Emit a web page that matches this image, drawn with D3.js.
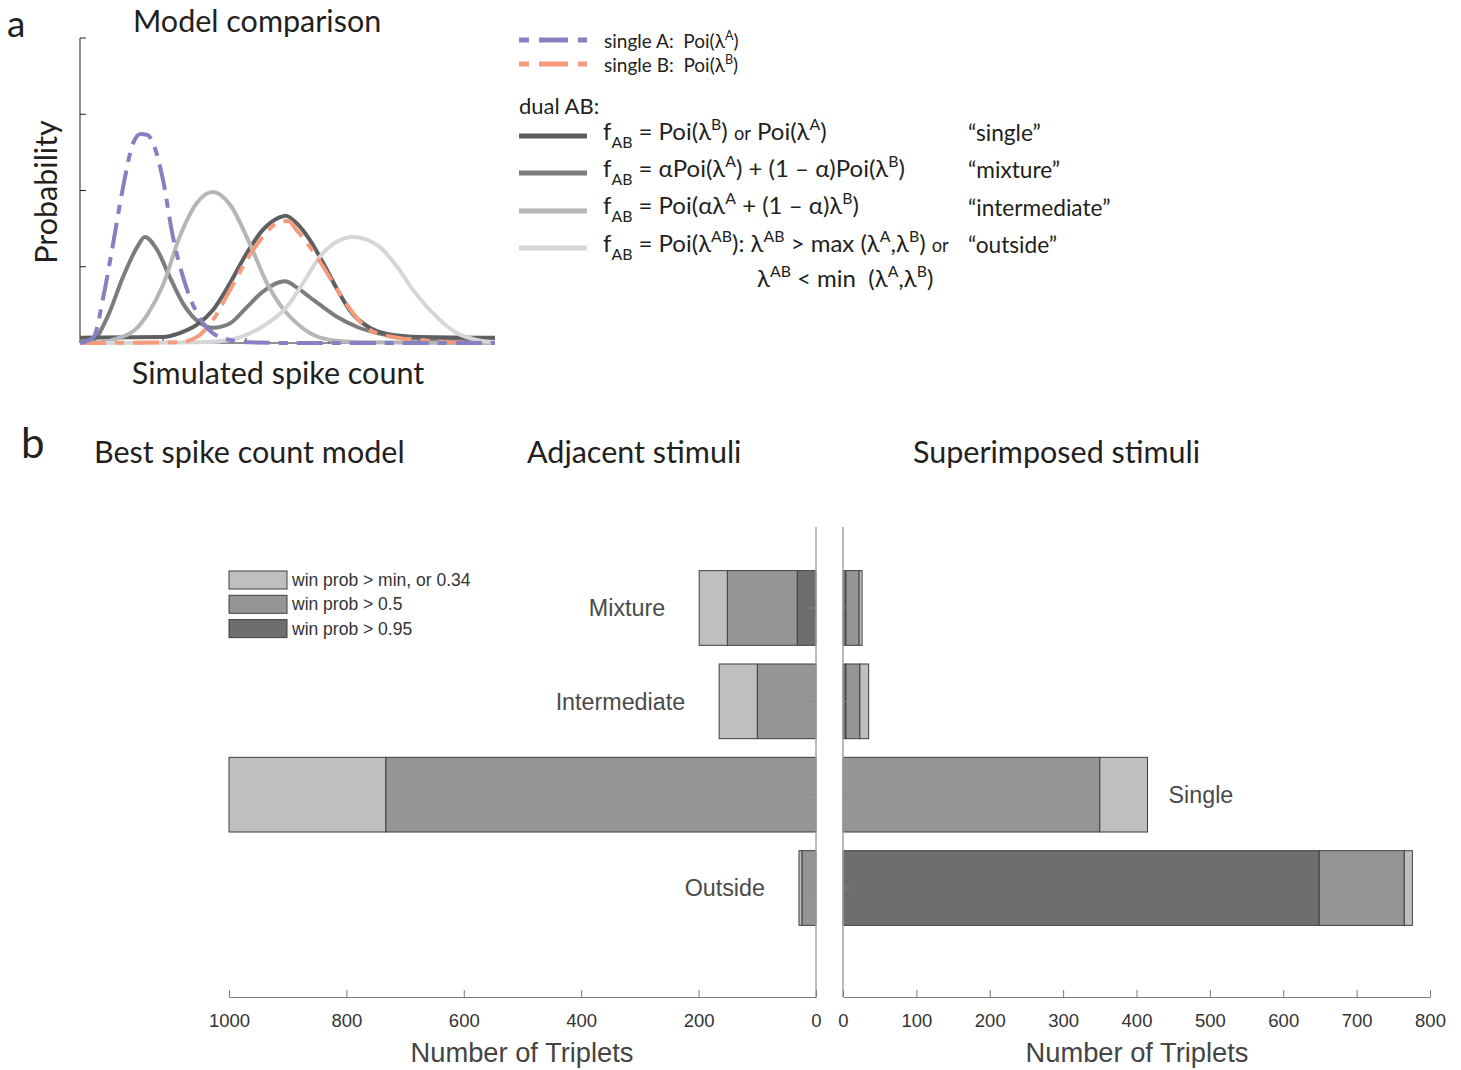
<!DOCTYPE html>
<html>
<head>
<meta charset="utf-8">
<script src="https://cdn.jsdelivr.net/npm/d3@7"></script>
<style>
  body { margin: 0; background: #fff; }
  svg text { white-space: pre; }
</style>
</head>
<body>
<div id="chart"></div>
<script>
"use strict";

/* ---------- Data: panel a (curves, [count, prob]) ---------- */
const curveSingleA = [[0,0],[1.6,0.07],[2.8,0.6],[4.0,1.31],[5.2,2.05],[6.4,2.62],[7.3,2.74],[8.1,2.73],
  [8.8,2.62],[10.0,2.14],[11.2,1.39],[12.4,0.87],[14.1,0.39],[16.0,0.13],[18.1,0.04],[20.1,0.01],[25.3,0],[50,0]];
const curveSingleB = [[0,0],[12.0,0.01],[14.1,0.08],[16.0,0.3],[18.1,0.7],[20.1,1.09],[22.0,1.39],[24.1,1.59],
  [25.1,1.6],[26.1,1.48],[27.7,1.26],[29.3,1.0],[31.0,0.7],[32.9,0.39],[34.9,0.17],[38.2,0.07],[41.0,0.04],[44.6,0.01],[50,0]];
const curveDualSingle = [[0,0.07],[10.0,0.08],[12.0,0.13],[14.1,0.24],[16.0,0.43],[18.1,0.79],[20.1,1.18],[22.0,1.48],
  [24.1,1.65],[24.8,1.67],[26.1,1.57],[27.7,1.35],[29.3,1.05],[31.0,0.7],[32.5,0.43],[34.9,0.2],[37.0,0.12],[41.0,0.08],[50,0.07]];
const curveMixture = [[0,0.01],[1.6,0.04],[3.3,0.34],[5.2,0.87],[6.9,1.26],[7.8,1.39],[9.3,1.22],[10.8,0.87],
  [12.4,0.52],[14.5,0.26],[16.0,0.2],[18.1,0.26],[20.1,0.47],[22.0,0.67],[24.1,0.8],[24.7,0.81],[26.1,0.73],
  [27.7,0.6],[29.3,0.47],[31.0,0.34],[33.4,0.21],[35.8,0.13],[38.9,0.07],[44.6,0.04],[50,0.04]];
const curveIntermediate = [[0,0],[2.4,0.01],[4.8,0.07],[6.6,0.17],[8.1,0.37],[10.0,0.76],[12.0,1.39],[14.1,1.84],
  [16.0,1.98],[18.1,1.81],[20.5,1.29],[22.5,0.79],[24.1,0.5],[25.9,0.28],[27.7,0.13],[30.1,0.04],[33.7,0.01],[50,0]];
const curveOutside = [[0,0],[14.5,0.01],[18.1,0.04],[20.5,0.13],[22.9,0.28],[24.9,0.47],[26.9,0.79],[28.9,1.13],
  [31.0,1.33],[32.9,1.39],[34.7,1.35],[36.1,1.26],[38.2,1.0],[40.1,0.7],[43.0,0.34],[45.4,0.13],[47.8,0.04],[50,0.01]];

const probTicks = [1, 2, 3, 4];
const countTicks = [10, 20, 30, 40];

/* ---------- Data: panel b ---------- */
const categories = ["Mixture", "Intermediate", "Single", "Outside"];
const levelLabels = ["win prob > min, or 0.34", "win prob > 0.5", "win prob > 0.95"];

// Adjacent stimuli
const adjacentHigh = [32, 0, 0, 0];     // win prob > 0.95
const adjacentMid = [119, 100, 733, 24]; // win prob > 0.5
const adjacentLow = [48, 65, 267, 5];    // win prob > min
// Superimposed stimuli
const superHigh = [4, 4, 0, 649];
const superMid = [18, 19, 350, 116];
const superLow = [4, 12, 65, 11];

const adjacentTicks = [1000, 800, 600, 400, 200, 0];
const superTicks = [0, 100, 200, 300, 400, 500, 600, 700, 800];

/* ---------- Drawing config ---------- */
let svgWidth = 1461;
let svgHeight = 1070;
const myriad = "Lato, 'Open Sans', sans-serif";
const arial = "'Liberation Sans', Arial, sans-serif";
const ink = "#231f20";

let svg = d3.select("#chart")
  .append("svg")
  .attr("width", svgWidth)
  .attr("height", svgHeight);

/* Text with sub/superscripts */
function richText(parent, x, y, parts, size) {
  let t = parent.append("text")
    .attr("x", x)
    .attr("y", y)
    .attr("font-family", myriad)
    .attr("font-size", size)
    .attr("fill", ink);
  let shift = 0;
  parts.forEach(p => {
    let str = typeof p === "string" ? p : p[0];
    let kind = typeof p === "string" ? "n" : p[1];
    let target = 0;
    if (kind === "sub") target = size * 0.32;
    if (kind === "sup") target = -size * 0.42;
    let ts = t.append("tspan").attr("dy", target - shift).text(str);
    if (kind === "sub" || kind === "sup") ts.attr("font-size", size * 0.66);
    if (kind === "small") ts.attr("font-size", size * 0.76);
    shift = target;
  });
  return t;
}

/* ================= Panel a ================= */
svg.append("text")
  .attr("x", 7).attr("y", 36.5)
  .attr("font-family", myriad).attr("font-size", 37).attr("fill", ink)
  .text("a");

svg.append("text")
  .attr("x", 133).attr("y", 32)
  .attr("font-family", myriad).attr("font-size", 30.5).attr("fill", ink)
  .text("Model comparison");

let xA = d3.scaleLinear().domain([0, 50]).range([80, 495]);
let yA = d3.scaleLinear().domain([0, 4]).range([343, 38]);

/* axes */
svg.append("line")
  .attr("x1", 80).attr("y1", yA(4)).attr("x2", 80).attr("y2", yA(0))
  .attr("stroke", ink).attr("stroke-width", 1);
svg.append("line")
  .attr("x1", 80).attr("y1", yA(0)).attr("x2", 495).attr("y2", yA(0))
  .attr("stroke", ink).attr("stroke-width", 1);
probTicks.forEach(v => {
  svg.append("line")
    .attr("x1", 80).attr("x2", 86).attr("y1", yA(v)).attr("y2", yA(v))
    .attr("stroke", ink).attr("stroke-width", 1);
});
countTicks.forEach(v => {
  svg.append("line")
    .attr("x1", xA(v)).attr("x2", xA(v)).attr("y1", yA(0)).attr("y2", yA(0) - 5)
    .attr("stroke", ink).attr("stroke-width", 1);
});

let lineA = d3.line()
  .x(d => xA(d[0]))
  .y(d => yA(d[1]))
  .curve(d3.curveMonotoneX);

let curves = [
  { data: curveMixture, color: "#7c7d7f", dash: null },
  { data: curveDualSingle, color: "#5e5f61", dash: null },
  { data: curveIntermediate, color: "#b5b6b8", dash: null },
  { data: curveOutside, color: "#d5d6d8", dash: null },
  { data: curveSingleB, color: "#f59b7c", dash: "26 9 9 9" },
  { data: curveSingleA, color: "#8580c2", dash: "26 9 9 9" }
];

curves.forEach(c => {
  let path = svg.append("path")
    .attr("d", lineA(c.data))
    .attr("fill", "none")
    .attr("stroke", c.color)
    .attr("stroke-width", 4)
    .attr("stroke-linejoin", "round");
  if (c.dash) path.attr("stroke-dasharray", c.dash);
});

svg.append("text")
  .attr("transform", "translate(57,192) rotate(-90)")
  .attr("text-anchor", "middle")
  .attr("font-family", myriad).attr("font-size", 30.5).attr("fill", ink)
  .text("Probability");

svg.append("text")
  .attr("x", 278).attr("y", 384)
  .attr("text-anchor", "middle")
  .attr("font-family", myriad).attr("font-size", 30.5).attr("fill", ink)
  .text("Simulated spike count");

/* Legend of panel a */
let legA = svg.append("g");

let legLines = [
  { y: 40, color: "#8580c2", dash: "10 10 29 10" },
  { y: 64, color: "#f59b7c", dash: "10 10 29 10" },
  { y: 136, color: "#5e5f61", dash: null },
  { y: 173, color: "#7c7d7f", dash: null },
  { y: 211, color: "#b5b6b8", dash: null },
  { y: 248, color: "#d5d6d8", dash: null }
];
legLines.forEach(l => {
  let ln = legA.append("line")
    .attr("x1", 519).attr("x2", 587).attr("y1", l.y).attr("y2", l.y)
    .attr("stroke", l.color).attr("stroke-width", 5);
  if (l.dash) ln.attr("stroke-dasharray", l.dash);
});

richText(legA, 604, 48, ["single A:  Poi(λ", ["A", "sup"], ")"], 19);
richText(legA, 604, 72, ["single B:  Poi(λ", ["B", "sup"], ")"], 19);

legA.append("text")
  .attr("x", 519).attr("y", 114)
  .attr("font-family", myriad).attr("font-size", 22).attr("fill", ink)
  .text("dual AB:");

richText(legA, 603, 140, ["f", ["AB", "sub"], " = Poi(λ", ["B", "sup"], ") ", ["or", "small"], " Poi(λ", ["A", "sup"], ")"], 24);
richText(legA, 603, 177, ["f", ["AB", "sub"], " = αPoi(λ", ["A", "sup"], ") + (1 – α)Poi(λ", ["B", "sup"], ")"], 24);
richText(legA, 603, 214, ["f", ["AB", "sub"], " = Poi(αλ", ["A", "sup"], " + (1 – α)λ", ["B", "sup"], ")"], 24);
richText(legA, 603, 252, ["f", ["AB", "sub"], " = Poi(λ", ["AB", "sup"], "): λ", ["AB", "sup"], " > max (λ", ["A", "sup"], ",λ", ["B", "sup"], ") ", ["or", "small"]], 24);
richText(legA, 757, 287, ["λ", ["AB", "sup"], " < min  (λ", ["A", "sup"], ",λ", ["B", "sup"], ")"], 24);

let modelNames = ["“single”", "“mixture”", "“intermediate”", "“outside”"];
modelNames.forEach((m, i) => {
  legA.append("text")
    .attr("x", 968).attr("y", 141 + i * 37.3)
    .attr("font-family", myriad).attr("font-size", 22.7).attr("fill", ink)
    .text(m);
});

/* ================= Panel b ================= */
svg.append("text")
  .attr("x", 21).attr("y", 458)
  .attr("font-family", myriad).attr("font-size", 42).attr("fill", ink)
  .text("b");

let titles = [
  { x: 94, text: "Best spike count model" },
  { x: 527, text: "Adjacent stimuli" },
  { x: 913, text: "Superimposed stimuli" }
];
titles.forEach(t => {
  svg.append("text")
    .attr("x", t.x).attr("y", 463)
    .attr("font-family", myriad).attr("font-size", 30.5).attr("fill", ink)
    .text(t.text);
});

let xLeft = d3.scaleLinear().domain([1000, 0]).range([229, 816]);
let xRight = d3.scaleLinear().domain([0, 800]).range([843, 1430]);
let yBand = d3.scaleBand()
  .domain(categories)
  .range([561.3, 934.7])
  .paddingInner(0.2)
  .paddingOuter(0.1);

const keys = ["high", "mid", "low"];
const fills = { high: "#6d6e70", mid: "#949597", low: "#bebfc1" };

let adjacentRows = categories.map((c, i) => ({
  cat: c, high: adjacentHigh[i], mid: adjacentMid[i], low: adjacentLow[i]
}));
let superRows = categories.map((c, i) => ({
  cat: c, high: superHigh[i], mid: superMid[i], low: superLow[i]
}));

let stack = d3.stack().keys(keys);
let adjacentStack = stack(adjacentRows);
let superStack = stack(superRows);

/* Left bars (grow to the left) */
adjacentStack.forEach(layer => {
  svg.append("g")
    .selectAll("rect")
    .data(layer.filter(d => d[1] - d[0] > 0))
    .enter()
    .append("rect")
    .attr("x", d => xLeft(d[1]))
    .attr("y", d => yBand(d.data.cat))
    .attr("width", d => xLeft(d[0]) - xLeft(d[1]))
    .attr("height", yBand.bandwidth())
    .attr("fill", fills[layer.key])
    .attr("stroke", "#3f3f40")
    .attr("stroke-width", 1);
});

/* Right bars */
superStack.forEach(layer => {
  svg.append("g")
    .selectAll("rect")
    .data(layer.filter(d => d[1] - d[0] > 0))
    .enter()
    .append("rect")
    .attr("x", d => xRight(d[0]))
    .attr("y", d => yBand(d.data.cat))
    .attr("width", d => xRight(d[1]) - xRight(d[0]))
    .attr("height", yBand.bandwidth())
    .attr("fill", fills[layer.key])
    .attr("stroke", "#3f3f40")
    .attr("stroke-width", 1);
});

/* Vertical axis lines with small ticks at bar centres */
let plotTop = 527;
let plotBottom = 997;
[{ x: 816, dir: -1 }, { x: 843, dir: 1 }].forEach(a => {
  svg.append("line")
    .attr("x1", a.x).attr("x2", a.x).attr("y1", plotTop).attr("y2", plotBottom)
    .attr("stroke", "#a3a3a3").attr("stroke-width", 1.5);
  categories.forEach(c => {
    let yc = yBand(c) + yBand.bandwidth() / 2;
    svg.append("line")
      .attr("x1", a.x).attr("x2", a.x + a.dir * 6).attr("y1", yc).attr("y2", yc)
      .attr("stroke", "#8a8a8a").attr("stroke-width", 1);
  });
});

/* Bottom axes */
function styleAxis(g) {
  g.select(".domain").attr("stroke", "#7a7a7a").attr("stroke-width", 1.2);
  g.selectAll(".tick line").attr("stroke", "#7a7a7a");
  g.selectAll(".tick text")
    .attr("font-family", arial)
    .attr("font-size", 18.5)
    .attr("fill", "#333");
}

svg.append("g")
  .attr("transform", `translate(0,${plotBottom})`)
  .call(d3.axisBottom(xLeft).tickValues(adjacentTicks).tickFormat(d3.format("d"))
    .tickSizeInner(-7).tickSizeOuter(0).tickPadding(17))
  .call(styleAxis);

svg.append("g")
  .attr("transform", `translate(0,${plotBottom})`)
  .call(d3.axisBottom(xRight).tickValues(superTicks).tickFormat(d3.format("d"))
    .tickSizeInner(-7).tickSizeOuter(0).tickPadding(17))
  .call(styleAxis);

[{ x: 522 }, { x: 1137 }].forEach(a => {
  svg.append("text")
    .attr("x", a.x).attr("y", 1062)
    .attr("text-anchor", "middle")
    .attr("font-family", arial).attr("font-size", 27.3).attr("fill", "#444")
    .text("Number of Triplets");
});

/* Category labels: beside the adjacent bar unless it fills the axis */
categories.forEach((c, i) => {
  let yc = yBand(c) + yBand.bandwidth() / 2;
  let leftTotal = adjacentHigh[i] + adjacentMid[i] + adjacentLow[i];
  let rightTotal = superHigh[i] + superMid[i] + superLow[i];
  let onRight = leftTotal >= xLeft.domain()[0];
  svg.append("text")
    .attr("x", onRight ? xRight(rightTotal) + 21 : xLeft(leftTotal) - 34)
    .attr("y", yc)
    .attr("dy", "0.36em")
    .attr("text-anchor", onRight ? "start" : "end")
    .attr("font-family", arial).attr("font-size", 23.3).attr("fill", "#4a4a4a")
    .text(c);
});

/* Legend of panel b */
let legB = svg.append("g");
levelLabels.forEach((lab, i) => {
  let yPos = 571 + i * 24.3;
  legB.append("rect")
    .attr("x", 229).attr("y", yPos)
    .attr("width", 58).attr("height", 18)
    .attr("fill", fills[keys[2 - i]])
    .attr("stroke", "#3f3f40").attr("stroke-width", 1);
  legB.append("text")
    .attr("x", 292).attr("y", yPos + 15)
    .attr("font-family", arial).attr("font-size", 17.5).attr("fill", "#333")
    .text(lab);
});
</script>
</body>
</html>
